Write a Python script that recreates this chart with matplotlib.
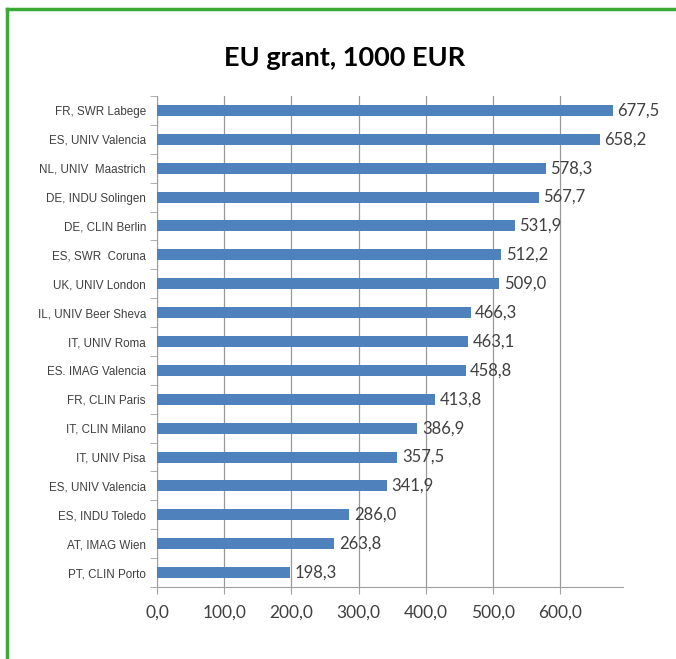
import matplotlib.pyplot as plt
from matplotlib.lines import Line2D

# data, top to bottom as in the chart
labels = ["FR, SWR Labege", "ES, UNIV Valencia", "NL, UNIV  Maastrich", "DE, INDU Solingen",
          "DE, CLIN Berlin", "ES, SWR  Coruna", "UK, UNIV London", "IL, UNIV Beer Sheva",
          "IT, UNIV Roma", "ES. IMAG Valencia", "FR, CLIN Paris", "IT, CLIN Milano",
          "IT, UNIV Pisa", "ES, UNIV Valencia", "ES, INDU Toledo", "AT, IMAG Wien",
          "PT, CLIN Porto"]
grant = [677.5, 658.2, 578.3, 567.7, 531.9, 512.2, 509.0, 466.3, 463.1, 458.8,
         413.8, 386.9, 357.5, 341.9, 286.0, 263.8, 198.3]
xticks = [0, 100, 200, 300, 400, 500, 600]

fig = plt.figure(figsize=(6.76, 6.59), dpi=100)
ax = fig.add_axes([157/676, 1 - 587/659, (623 - 157)/676, (587 - 96)/659])

pos = list(range(len(labels)))
ax.barh(pos, grant, height=0.38, color="#4F81BD", zorder=3)
ax.set_ylim(len(labels) - 0.5, -0.5)
ax.set_xlim(0, 693)

for p, v in zip(pos, grant):
    ax.text(v + 7, p, f"{v:.1f}".replace(".", ","), va="center", ha="left",
            fontsize=12, family="Lato", color="#404040")

ax.set_yticks(pos)
ax.set_yticklabels(labels, fontsize=8.4, family="Liberation Sans", color="#404040")
ax.tick_params(axis="y", length=0, pad=8)
# category separator ticks on the left axis
ax.set_yticks([p + 0.5 for p in [-1] + pos], minor=True)
ax.tick_params(axis="y", which="minor", length=5, color="#a0a0a0", direction="out")

ax.set_xticks(xticks)
ax.set_xticklabels([f"{t:.1f}".replace(".", ",") for t in xticks], fontsize=12.5,
                   family="Lato", color="#404040")
ax.tick_params(axis="x", length=5, color="#a0a0a0", pad=8)
ax.grid(axis="x", color="#999999", linewidth=0.9, zorder=0)

for s in ["top", "right"]:
    ax.spines[s].set_visible(False)
for s in ["left", "bottom"]:
    ax.spines[s].set_color("#a0a0a0")

fig.text(345/676, 1 - 58/659, "EU grant, 1000 EUR", ha="center", va="center",
         fontsize=19.5, fontweight="bold", family="Lato")

# green frame (left and top)
fig.add_artist(Line2D([7/676, 7/676], [0, 1 - 9/659], color="#3aaa35", linewidth=2.5,
                      transform=fig.transFigure))
fig.add_artist(Line2D([7/676, 1], [1 - 9/659, 1 - 9/659], color="#3aaa35", linewidth=2.5,
                      transform=fig.transFigure))

fig.savefig("out.png", dpi=100)
